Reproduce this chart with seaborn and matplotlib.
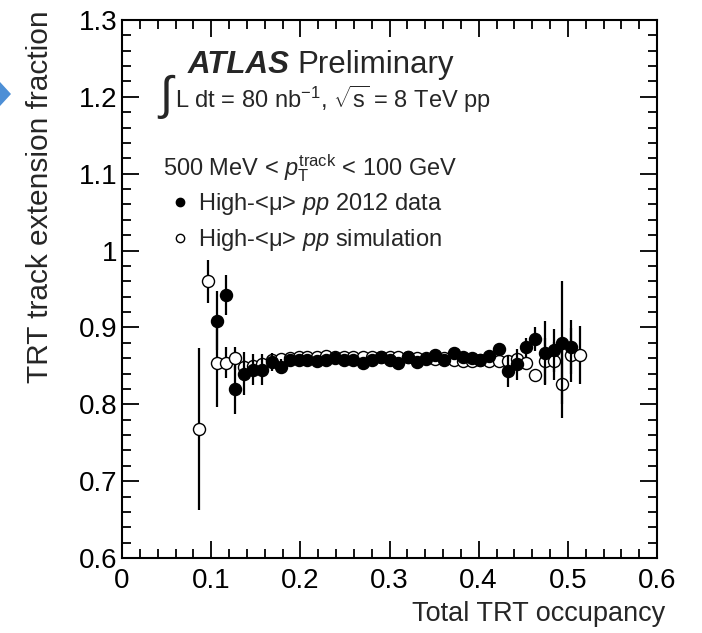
import matplotlib
matplotlib.use("Agg")
import matplotlib.pyplot as plt
import seaborn as sns
import pandas as pd
import numpy as np
from matplotlib.lines import Line2D
from matplotlib.patches import Polygon
from matplotlib.ticker import MultipleLocator, FormatStrFormatter

# occupancy bins
occupancy = [0.086, 0.096, 0.106, 0.117, 0.127, 0.137, 0.147, 0.157, 0.168, 0.178,
             0.188, 0.198, 0.208, 0.219, 0.229, 0.239, 0.249, 0.259, 0.270, 0.280,
             0.290, 0.300, 0.310, 0.321, 0.331, 0.341, 0.351, 0.361, 0.372, 0.382,
             0.392, 0.402, 0.412, 0.423, 0.433, 0.443, 0.453, 0.463, 0.474, 0.484,
             0.494, 0.504, 0.514]

# High-<mu> pp 2012 data
data_frac = [np.nan, np.nan, 0.909, 0.942, 0.820, 0.840, 0.845, 0.845, 0.855, 0.849,
             0.857, 0.857, 0.858, 0.856, 0.857, 0.860, 0.858, 0.858, 0.854, 0.858,
             0.862, 0.858, 0.854, 0.861, 0.855, 0.859, 0.864, 0.858, 0.867, 0.861,
             0.860, 0.857, 0.863, 0.872, 0.843, 0.852, 0.874, 0.885, 0.867, 0.870,
             0.880, 0.875, np.nan]
data_err = [0, 0, 0.039, 0.026, 0.032, 0.028, 0.020, 0.020, 0.012, 0.010,
            0.008, 0.006, 0.006, 0.005, 0.005, 0.005, 0.005, 0.005, 0.005, 0.005,
            0.005, 0.005, 0.005, 0.005, 0.005, 0.005, 0.005, 0.005, 0.006, 0.006,
            0.006, 0.006, 0.007, 0.008, 0.020, 0.020, 0.012, 0.016, 0.042, 0.028,
            0.080, 0.035, 0]

# High-<mu> pp simulation
sim_frac = [0.768, 0.960, 0.854, 0.854, 0.860, 0.848, 0.850, 0.852, 0.857, 0.859,
            0.860, 0.862, 0.861, 0.862, 0.863, 0.862, 0.861, 0.862, 0.862, 0.861,
            0.862, 0.861, 0.862, 0.861, 0.860, 0.860, 0.859, 0.860, 0.858, 0.856,
            0.856, 0.857, 0.856, 0.856, 0.856, 0.859, 0.854, 0.838, 0.856, 0.856,
            0.827, 0.864, 0.864]
sim_err = [0.105, 0.028, 0.057, 0.020, 0.015, 0.010, 0.008, 0.006, 0.005, 0.005,
           0.005, 0.005, 0.005, 0.005, 0.005, 0.005, 0.005, 0.005, 0.005, 0.005,
           0.005, 0.005, 0.005, 0.005, 0.005, 0.005, 0.005, 0.005, 0.005, 0.005,
           0.005, 0.005, 0.006, 0.006, 0.006, 0.007, 0.008, 0.008, 0.030, 0.025,
           0.045, 0.035, 0.038]

df = pd.DataFrame({"occ": occupancy, "data": data_frac, "data_err": data_err,
                   "sim": sim_frac, "sim_err": sim_err})

sns.set_theme(style="ticks")
plt.rcParams['font.family'] = ['Liberation Sans', 'DejaVu Sans']
plt.rcParams['mathtext.fontset'] = 'custom'
plt.rcParams['mathtext.rm'] = 'Liberation Sans'
plt.rcParams['mathtext.it'] = 'Liberation Sans:italic'
plt.rcParams['mathtext.bf'] = 'Liberation Sans:bold'

W, H = 702, 633
fig = plt.figure(figsize=(W / 100, H / 100), dpi=100)
ax = fig.add_axes([122 / W, 1 - 558 / H, 535 / W, 538 / H])

# simulation first (hollow), data on top
ax.errorbar(df.occ, df.sim, yerr=df.sim_err, fmt="none", ecolor="black",
            elinewidth=1.6, capsize=0, zorder=2)
sns.scatterplot(data=df, x="occ", y="sim", ax=ax, marker="o", s=75,
                facecolor="white", edgecolor="black", linewidth=1.0, zorder=3)
d = df.dropna(subset=["data"])
ax.errorbar(d.occ, d.data, yerr=d.data_err, fmt="none", ecolor="black",
            elinewidth=1.6, capsize=0, zorder=4)
sns.scatterplot(data=d, x="occ", y="data", ax=ax, marker="o", s=75,
                color="black", edgecolor="black", linewidth=1.0, zorder=5)

ax.set_xlim(0, 0.6)
ax.set_ylim(0.6, 1.3)
ax.xaxis.set_major_locator(MultipleLocator(0.1))
ax.xaxis.set_minor_locator(MultipleLocator(0.02))
ax.yaxis.set_major_locator(MultipleLocator(0.1))
ax.yaxis.set_minor_locator(MultipleLocator(0.02))
ax.xaxis.set_major_formatter(FormatStrFormatter('%g'))
ax.yaxis.set_major_formatter(FormatStrFormatter('%g'))
ax.tick_params(which="both", direction="in", top=True, right=True, width=1.3,
               colors="black", labelsize=20)
ax.tick_params(which="major", length=12)
ax.tick_params(which="minor", length=6.5)
ax.tick_params(axis="x", pad=7)
ax.tick_params(axis="y", pad=3)
for sp in ax.spines.values():
    sp.set_linewidth(1.5)
    sp.set_color("black")
    sp.set_visible(True)

ax.set_xlabel("Total TRT occupancy", fontsize=19.5, ha="right")
ax.xaxis.set_label_coords(1.015, -0.080)
ax.set_ylabel("TRT track extension fraction", fontsize=21.5, loc="top")
ax.yaxis.set_label_coords(-0.127, 1.0186)

# labels
ax.text(0.123, 0.901, "ATLAS", transform=ax.transAxes, fontsize=22.5,
        fontweight="bold", fontstyle="italic", va="baseline")
ax.text(0.327, 0.901, "Preliminary", transform=ax.transAxes, fontsize=22.5,
        va="baseline")
ax.text(0.066, 0.857, r"$\int$", transform=ax.transAxes, fontsize=34, va="center")
ax.text(0.099, 0.836, r"L dt = 80 nb$^{\mathrm{-1}}$, $\sqrt{\mathrm{s}}$ = 8 TeV pp",
        transform=ax.transAxes, fontsize=17, va="baseline")
ax.text(0.077, 0.712, r"500 MeV < $p_{\mathrm{T}}^{\mathrm{track}}$ < 100 GeV",
        transform=ax.transAxes, fontsize=17, va="baseline")

handles = [Line2D([], [], marker="o", ls="none", color="black", markersize=6),
           Line2D([], [], marker="o", ls="none", markerfacecolor="white",
                  markeredgecolor="black", markersize=6)]
labels = [r"High-<μ> $pp$ 2012 data", r"High-<μ> $pp$ simulation"]
ax.legend(handles, labels, loc="upper left", bbox_to_anchor=(0.09, 0.682),
          frameon=False, fontsize=17, handlelength=0.8, handletextpad=0.4,
          labelspacing=0.42, borderpad=0, borderaxespad=0)

# slide arrow on the left edge
fig.patches.append(Polygon([[0, 1 - 82 / H], [11 / W, 1 - 94 / H], [0, 1 - 106 / H]],
                           closed=True, transform=fig.transFigure,
                           facecolor="#4d8fd6", edgecolor="none"))

fig.savefig("out.png", dpi=100)
